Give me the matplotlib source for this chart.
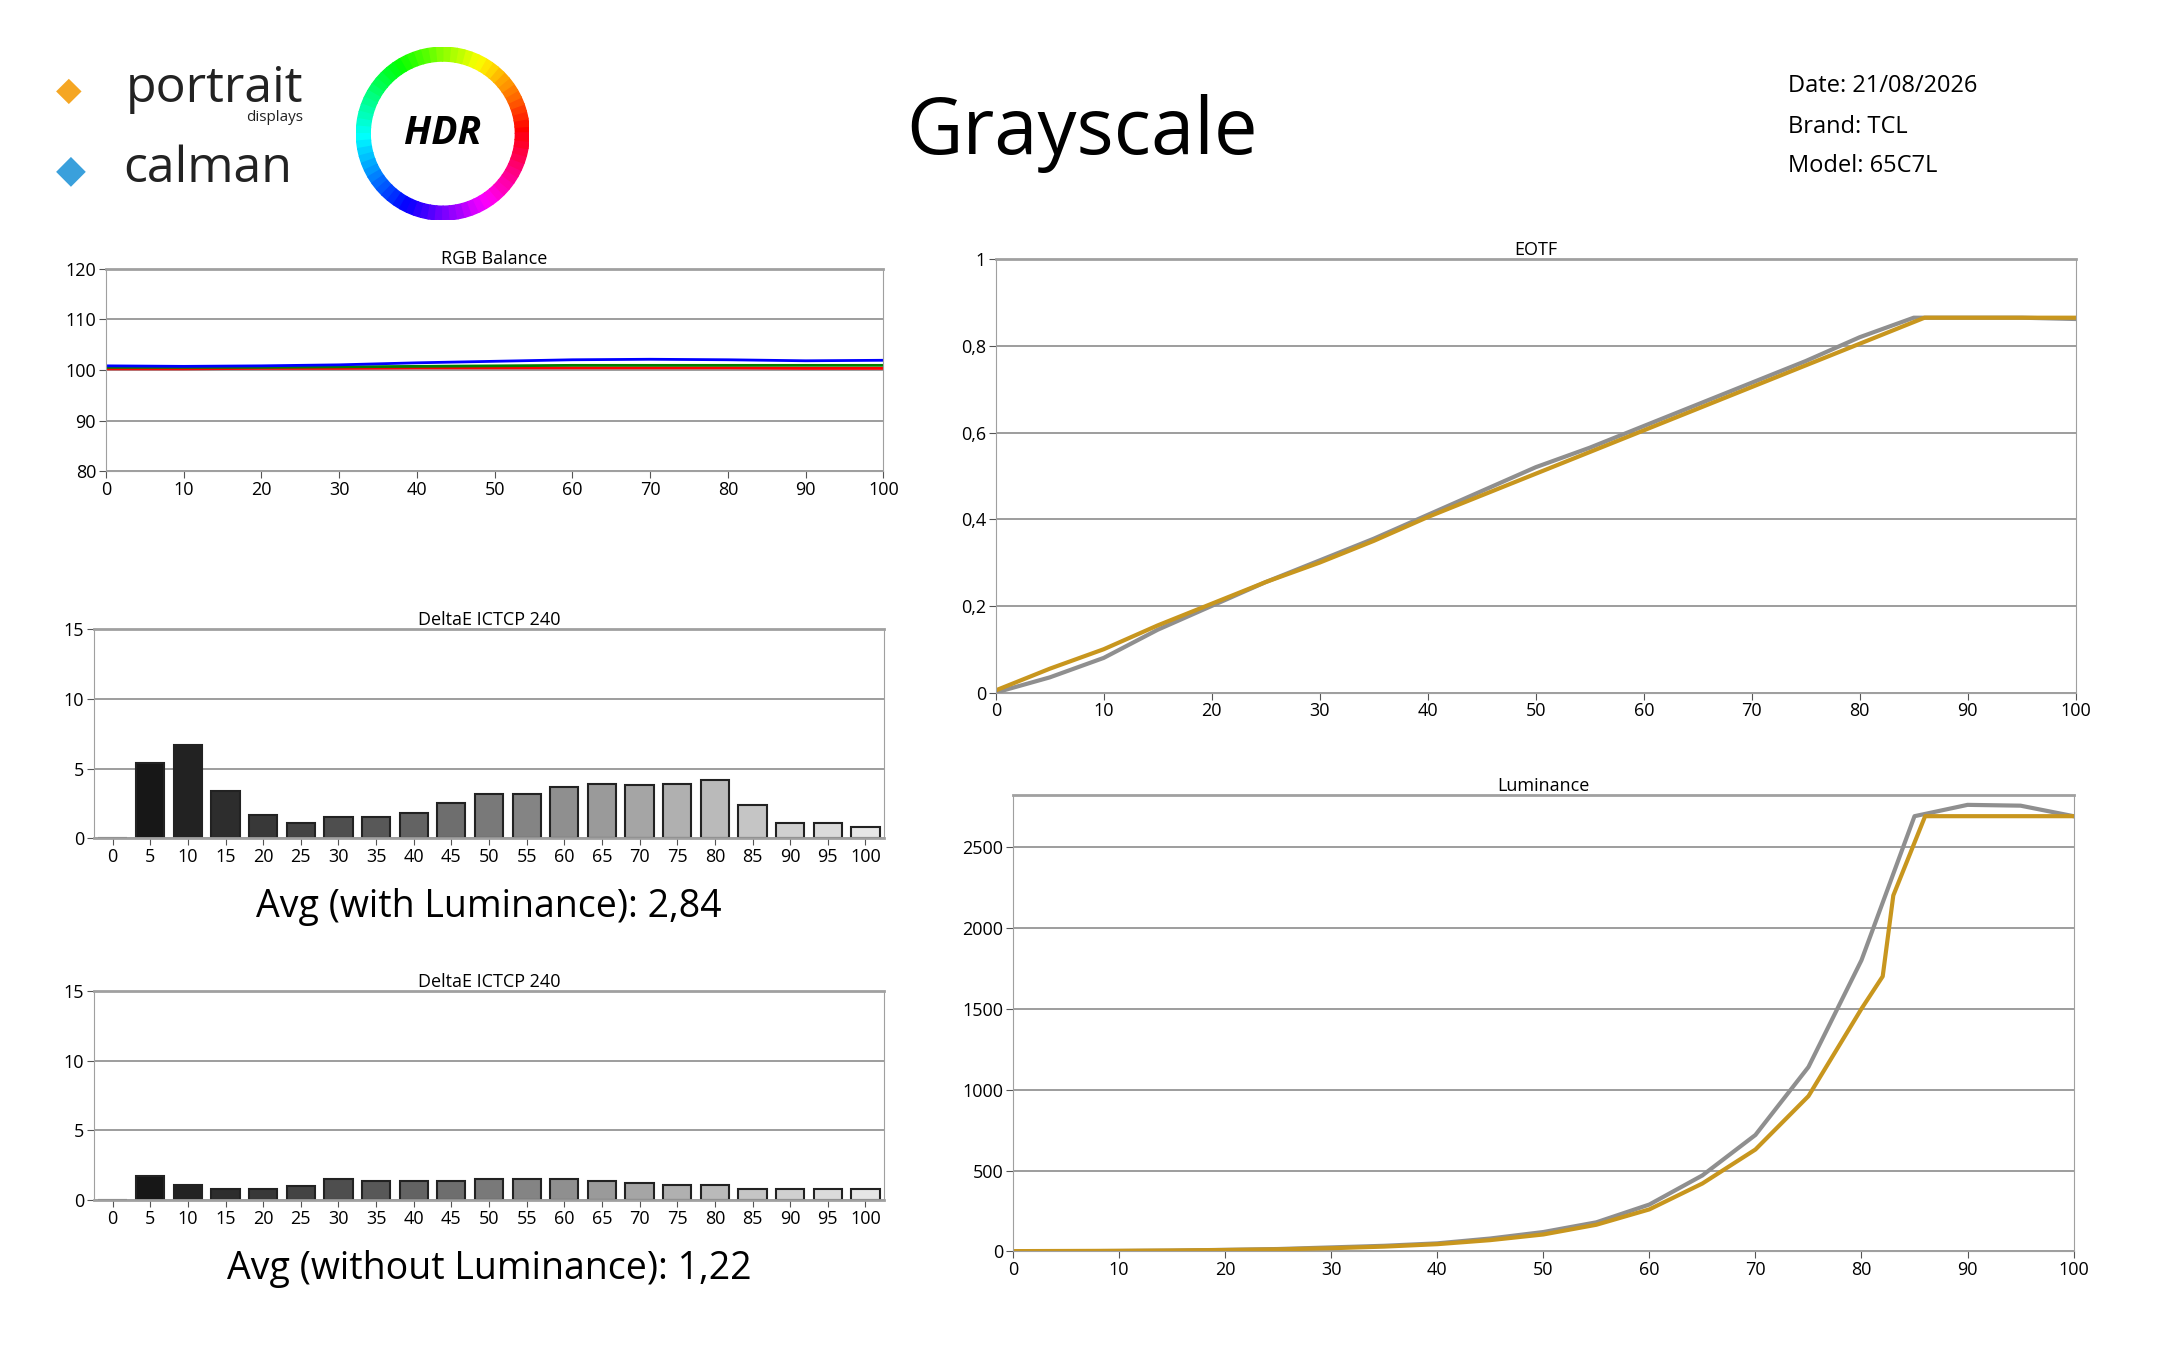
import matplotlib
matplotlib.use('Agg')
import matplotlib.pyplot as plt
import numpy as np
from matplotlib.patches import Wedge

plt.rcParams['font.family'] = ['Open Sans', 'DejaVu Sans']

# RGB balance
rgb_x = [0, 10, 20, 30, 40, 50, 60, 70, 80, 90, 100]
red = [100.2, 100.2, 100.3, 100.3, 100.4, 100.4, 100.4, 100.4, 100.4, 100.3, 100.3]
green = [100.5, 100.5, 100.5, 100.6, 100.7, 100.8, 100.9, 100.9, 100.9, 100.9, 100.9]
blue = [100.8, 100.7, 100.8, 101.0, 101.4, 101.7, 102.0, 102.1, 102.0, 101.8, 101.9]

# DeltaE
de_labels = ['0', '5', '10', '15', '20', '25', '30', '35', '40', '45', '50',
             '55', '60', '65', '70', '75', '80', '85', '90', '95', '100']
de_lum = [0, 5.4, 6.7, 3.4, 1.7, 1.1, 1.5, 1.5, 1.8, 2.5, 3.2,
          3.2, 3.7, 3.9, 3.8, 3.9, 4.2, 2.4, 1.1, 1.1, 0.8]
de_nolum = [0, 1.7, 1.1, 0.8, 0.8, 1.0, 1.5, 1.4, 1.4, 1.4, 1.5,
            1.5, 1.5, 1.4, 1.2, 1.1, 1.1, 0.8, 0.8, 0.8, 0.8]

# EOTF
eotf_x = [0, 5, 10, 15, 20, 25, 30, 35, 40, 45, 50, 55, 60, 65, 70, 75, 80, 85, 90, 95, 100]
eotf_target = [0, 0.035, 0.08, 0.145, 0.2, 0.255, 0.305, 0.355, 0.41, 0.465, 0.52, 0.565,
               0.615, 0.665, 0.715, 0.765, 0.82, 0.865, 0.865, 0.865, 0.862]
eotf_meas_x = [0, 5, 10, 15, 20, 25, 30, 35, 40, 45, 50, 55, 60, 65, 70, 75, 80, 85, 86, 90, 95, 100]
eotf_meas = [0.005, 0.055, 0.1, 0.155, 0.205, 0.255, 0.3, 0.35, 0.405, 0.455, 0.505, 0.555,
             0.605, 0.655, 0.705, 0.755, 0.805, 0.855, 0.865, 0.865, 0.865, 0.865]

# Luminance
lum_x = [0, 5, 10, 15, 20, 25, 30, 35, 40, 45, 50, 55, 60, 65, 70, 75, 80, 85, 90, 95, 100]
lum_target = [0, 1, 3, 5, 10, 15, 25, 35, 50, 80, 120, 180, 290, 470, 720, 1140, 1800, 2690,
              2760, 2755, 2690]
lum_meas_x = [0, 5, 10, 15, 20, 25, 30, 35, 40, 45, 50, 55, 60, 65, 70, 75, 80, 82, 83, 86, 90, 95, 100]
lum_meas = [2, 3, 4, 6, 9, 13, 20, 30, 45, 70, 105, 165, 260, 420, 630, 960, 1500, 1700,
            2200, 2690, 2690, 2690, 2690]

grid_c = '#8c8c8c'
gold = '#c8961e'
gray_line = '#8f8f8f'


def style(ax, title):
    ax.set_title(title, fontsize=13, pad=3)
    ax.grid(axis='y', color=grid_c, linewidth=1.2)
    ax.set_axisbelow(True)
    for s in ax.spines.values():
        s.set_color('#a0a0a0')
    ax.spines['top'].set_linewidth(2)
    ax.tick_params(labelsize=13, length=5, color='#555555', pad=2)


fig = plt.figure(figsize=(21.6, 13.5), dpi=100)

# RGB Balance
ax = fig.add_axes([0.049, 0.651, 0.36, 0.150])
ax.plot(rgb_x, red, color='red', lw=2)
ax.plot(rgb_x, green, color='green', lw=2)
ax.plot(rgb_x, blue, color='blue', lw=2)
ax.set_xlim(0, 100)
ax.set_ylim(80, 120)
ax.set_xticks(range(0, 101, 10))
ax.set_yticks(range(80, 121, 10))
style(ax, 'RGB Balance')


def bars(rect, vals, avg_text):
    ax = fig.add_axes(rect)
    pos = np.arange(len(vals))
    cols = [plt.cm.gray(0.05 + 0.85 * i / (len(vals) - 1)) for i in range(len(vals))]
    ax.bar(pos, vals, width=0.75, color=cols, edgecolor='#222222', linewidth=1.5)
    ax.set_xlim(-0.5, len(vals) - 0.5)
    ax.set_ylim(0, 15)
    ax.set_yticks([0, 5, 10, 15])
    ax.set_xticks(pos)
    ax.set_xticklabels(de_labels)
    style(ax, 'DeltaE ICTCP 240')
    ax.spines['bottom'].set_linewidth(2)
    ax.text(0.5, -0.33, avg_text, transform=ax.transAxes, ha='center', va='center', fontsize=27)


bars([0.0434, 0.379, 0.366, 0.155], de_lum, 'Avg (with Luminance): 2,84')
bars([0.0434, 0.111, 0.366, 0.155], de_nolum, 'Avg (without Luminance): 1,22')

# EOTF
ax = fig.add_axes([0.461, 0.487, 0.5, 0.321])
ax.plot(eotf_x, eotf_target, color=gray_line, lw=3)
ax.plot(eotf_meas_x, eotf_meas, color=gold, lw=3)
ax.set_xlim(0, 100)
ax.set_ylim(0, 1)
ax.set_xticks(range(0, 101, 10))
ax.set_yticks([0, 0.2, 0.4, 0.6, 0.8, 1])
ax.set_yticklabels(['0', '0,2', '0,4', '0,6', '0,8', '1'])
style(ax, 'EOTF')

# Luminance
ax = fig.add_axes([0.469, 0.073, 0.491, 0.338])
ax.plot(lum_x, lum_target, color=gray_line, lw=3)
ax.plot(lum_meas_x, lum_meas, color=gold, lw=3)
ax.set_xlim(0, 100)
ax.set_ylim(0, 2820)
ax.set_xticks(range(0, 101, 10))
ax.set_yticks(range(0, 2501, 500))
style(ax, 'Luminance')

# header
fig.text(0.501, 0.901, 'Grayscale', fontsize=56, ha='center', va='center')
fig.text(0.828, 0.936, 'Date: 21/08/2026', fontsize=17, va='center')
fig.text(0.828, 0.906, 'Brand: TCL', fontsize=17, va='center')
fig.text(0.828, 0.877, 'Model: 65C7L', fontsize=17, va='center')

fig.text(0.058, 0.934, 'portrait', fontsize=36, va='center', color='#222222')
fig.text(0.114, 0.913, 'displays', fontsize=11, va='center', color='#222222')
fig.text(0.057, 0.875, 'calman', fontsize=36, va='center', color='#222222')
fig.text(0.026, 0.932, '◆', fontsize=24, va='center', color='#f5a623')
fig.text(0.026, 0.873, '◆', fontsize=28, va='center', color='#3aa0dc')

lax = fig.add_axes([0.165, 0.837, 0.08, 0.128])
lax.set_xlim(-1, 1)
lax.set_ylim(-1, 1)
lax.set_aspect('equal')
lax.axis('off')
hues = plt.cm.hsv(np.linspace(0, 1, 72))
for i in range(72):
    lax.add_patch(Wedge((0, 0), 1, i * 5, i * 5 + 5.5, width=0.16, color=hues[i]))
lax.text(0, 0, 'HDR', fontsize=28, fontweight='bold', fontstyle='italic', ha='center', va='center')

fig.savefig('out.png', dpi=100)
